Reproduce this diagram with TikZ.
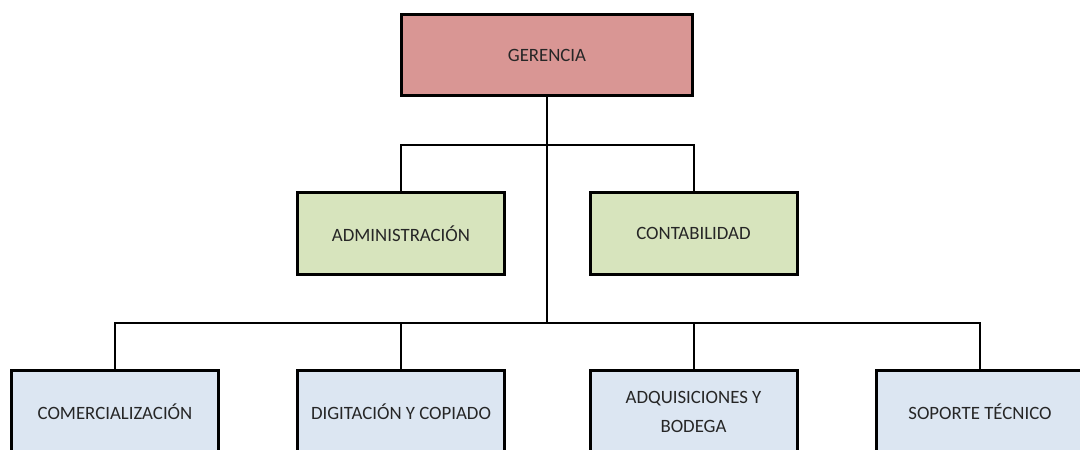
\documentclass[tikz,border=0pt]{standalone}
\usepackage{fontspec}
\setmainfont{Carlito}
\usepackage{tikz}

\definecolor{rojo}{HTML}{D99694}
\definecolor{verde}{HTML}{D7E4BD}
\definecolor{azul}{HTML}{DCE6F2}

\begin{document}
\begin{tikzpicture}[x=1pt, y=-1pt,
	caja/.style={shape=rectangle, draw=black, line width=3pt, inner sep=0pt, align=center,
		minimum width=207pt, minimum height=82pt, text=black!85,
		font=\fontsize{18.8}{29}\selectfont},
	linea/.style={draw=black, line width=2pt}]
	
	\clip (0,0) rectangle (1080,450);
	
	\node[caja, fill=rojo, minimum width=291pt, minimum height=81pt] (ger) at (547, 55)     {GERENCIA};
	\node[caja, fill=verde] (adm) at (401, 233.5)     {ADMINISTRACIÓN};
	\node[caja, fill=verde] (con) at (693.5, 233.5)     {CONTABILIDAD};
	\node[caja, fill=azul] (com) at (115, 411.5)     {COMERCIALIZACIÓN};
	\node[caja, fill=azul] (dig) at (401, 411.5)     {DIGITACIÓN Y COPIADO};
	\node[caja, fill=azul] (adq) at (693.5, 411.5)     {ADQUISICIONES Y\\BODEGA};
	\node[caja, fill=azul] (sop) at (980, 411.5)     {SOPORTE TÉCNICO};
	
	\coordinate (b1) at (547, 145);
	\coordinate (b2) at (547, 323);
	
	\path[linea] (ger.south) -- (b2);
	\path[linea] (adm.north) |- (b1) -| (con.north);
	\path[linea] (com.north) |- (b2) -| (sop.north);
	\path[linea] (dig.north) -- (dig.north |- b2);
	\path[linea] (adq.north) -- (adq.north |- b2);
	
\end{tikzpicture}
\end{document}
